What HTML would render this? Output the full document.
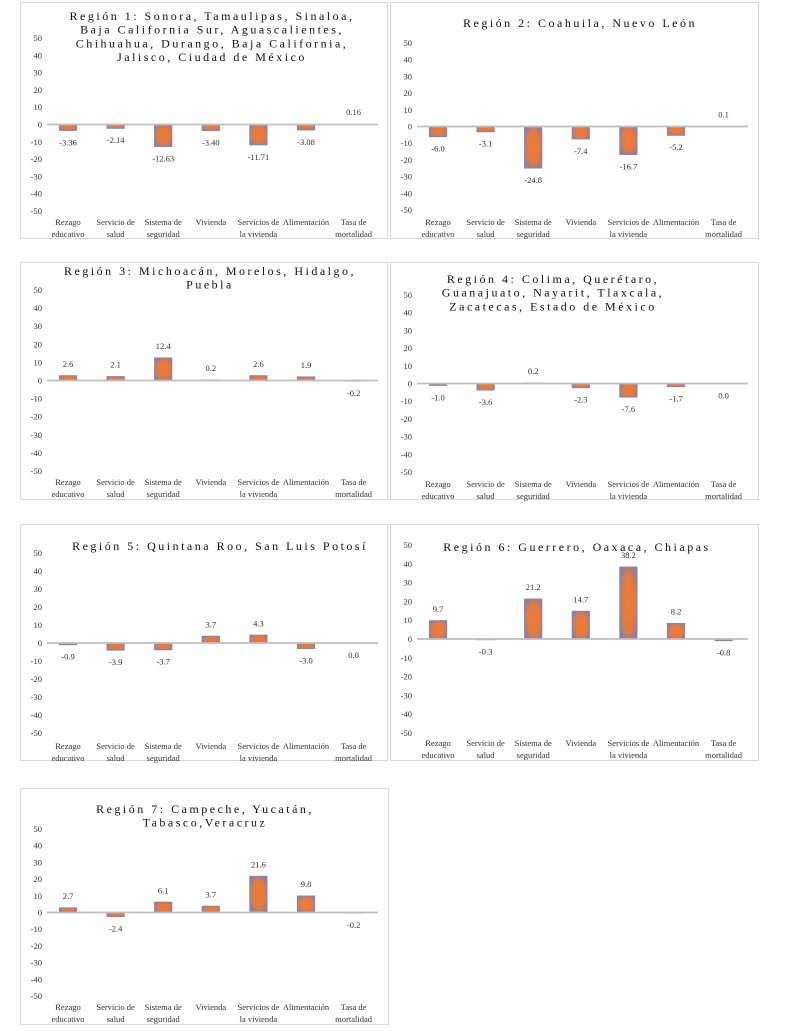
<!DOCTYPE html>
<html><head><meta charset="utf-8">
<style>
html,body{margin:0;padding:0;background:#fff;}
svg{display:block;font-family:"Liberation Serif",serif;}
</style></head>
<body>
<svg id="c" width="792" height="1031" viewBox="0 0 792 1031" xmlns="http://www.w3.org/2000/svg">
<defs>
<radialGradient id="bg" cx="50%" cy="50%" r="60%">
<stop offset="0%" stop-color="#f07a34"/>
<stop offset="65%" stop-color="#e27a42"/>
<stop offset="100%" stop-color="#8a7fa6"/>
</radialGradient>
</defs>
</svg>
<script>
const categories1 = ["Rezago|educativo","Servicio de|salud","Sistema de|seguridad","Vivienda","Servicios de|la vivienda","Alimentación","Tasa de|mortalidad"];
const yTicks = [50,40,30,20,10,0,-10,-20,-30,-40,-50];
const region1Values = [-3.36,-2.14,-12.63,-3.40,-11.71,-3.08,0.16];
const region2Values = [-6.0,-3.1,-24.8,-7.4,-16.7,-5.2,0.1];
const region3Values = [2.6,2.1,12.4,0.2,2.6,1.9,-0.2];
const region4Values = [-1.0,-3.6,0.2,-2.3,-7.6,-1.7,0.0];
const region5Values = [-0.9,-3.9,-3.7,3.7,4.3,-3.0,0.0];
const region6Values = [9.7,-0.3,21.2,14.7,38.2,8.2,-0.8];
const region7Values = [2.7,-2.4,6.1,3.7,21.6,9.8,-0.2];
const region1Title = ["Región 1: Sonora, Tamaulipas, Sinaloa,","Baja California Sur, Aguascalientes,","Chihuahua, Durango, Baja California,","Jalisco, Ciudad de México"];
const region2Title = ["Región 2: Coahuila, Nuevo León"];
const region3Title = ["Región 3: Michoacán, Morelos, Hidalgo,","Puebla"];
const region4Title = ["Región 4: Colima, Querétaro,","Guanajuato, Nayarit, Tlaxcala,","Zacatecas, Estado de México"];
const region5Title = ["Región 5: Quintana Roo, San Luis Potosí"];
const region6Title = ["Región 6: Guerrero, Oaxaca, Chiapas"];
const region7Title = ["Región 7: Campeche, Yucatán,","Tabasco,Veracruz"];

const panels = [
 {n:1,vals:region1Values,title:region1Title,dec:2,x:20,y:2,w:367,h:236,yt:38,yb:211,ly:225,ty:20,tx:212},
 {n:2,vals:region2Values,title:region2Title,dec:1,x:390,y:2,w:368,h:236,yt:43,yb:210,ly:225,ty:27,tx:580},
 {n:3,vals:region3Values,title:region3Title,dec:1,x:20,y:262,w:367,h:237,yt:290,yb:471,ly:485,ty:275,tx:210},
 {n:4,vals:region4Values,title:region4Title,dec:1,x:390,y:262,w:368,h:237,yt:295,yb:472,ly:487,ty:283,tx:553},
 {n:5,vals:region5Values,title:region5Title,dec:1,x:20,y:524,w:367,h:236,yt:553,yb:733,ly:749,ty:550,tx:220},
 {n:6,vals:region6Values,title:region6Title,dec:1,x:390,y:524,w:368,h:236,yt:545,yb:733,ly:746,ty:551,tx:577},
 {n:7,vals:region7Values,title:region7Title,dec:1,x:20,y:788,w:368,h:236,yt:829,yb:996,ly:1010,ty:813,tx:205}
];
const NS="http://www.w3.org/2000/svg";
const svg=document.getElementById('c');
function mk(tag,attrs,parent){const e=document.createElementNS(NS,tag);for(const k in attrs)e.setAttribute(k,attrs[k]);parent.appendChild(e);return e;}
panels.forEach(p=>{
 const g=mk('g',{},svg);
 
 
 const fr=mk('rect',{x:p.x+0.5,y:p.y+0.5,width:p.w,height:p.h,fill:'#fff',stroke:'#d9d9d9','stroke-width':1},g);
 
 
 const yScale=v=>p.yt+(50-v)*(p.yb-p.yt)/100;
 const xScale=i=>p.x+48+i*47.6;
 p.title.forEach((line,i)=>{
  const t=mk('text',{x:p.tx,y:p.ty+i*13.7,'text-anchor':'middle','font-size':12,'letter-spacing':'2.5',fill:'#111'},g);
  t.textContent=line;
  
  
 });
 yTicks.forEach(v=>{
  const t=mk('text',{x:p.x+22,y:yScale(v)+3,'text-anchor':'end','font-size':8.5,fill:'#333'},g);
  t.textContent=v;
  
  
 });
 const z=yScale(0);
 p.vals.forEach((v,i)=>{
  const cx=xScale(i);
  const yv=yScale(v);
  const top=Math.min(yv,z),hh=Math.abs(yv-z);
  if(hh>0.3){
   const r=mk('rect',{x:cx-8.5,y:top,width:17,height:hh,fill:'url(#bg)',stroke:'#8c84a8','stroke-width':1.2},g);
   
   
  }
  const lab=mk('text',{x:cx,'text-anchor':'middle','font-size':8.5,fill:'#333'},g);
  lab.setAttribute('y', v>0 ? top-9 : Math.max(yv,z)+15);
  lab.textContent=v.toFixed(p.dec);
  
  
 });
 const ax=mk('line',{x1:p.x+27,x2:p.x+358,y1:z,y2:z,stroke:'#bfbfbf','stroke-width':1.8},g);
 
 
 categories1.forEach((c,i)=>{
  c.split('|').forEach((ln,j)=>{
   const t=mk('text',{x:xScale(i),y:p.ly+j*12,'text-anchor':'middle','font-size':8.5,fill:'#333'},g);
   t.textContent=ln;
   
   
  });
 });
});
</script>
</body></html>
